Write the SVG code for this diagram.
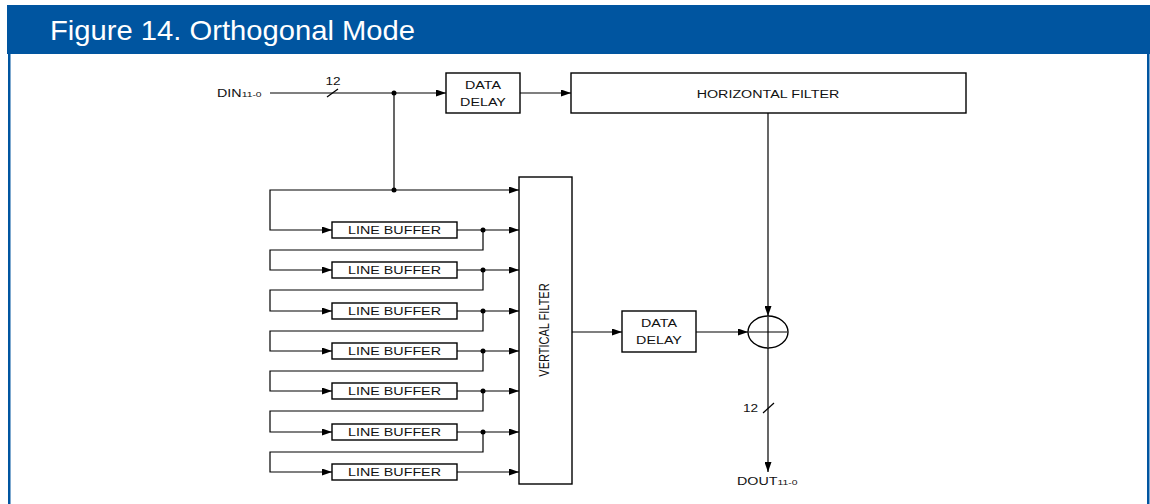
<svg xmlns="http://www.w3.org/2000/svg" width="1150" height="504" viewBox="0 0 1150 504">
<style>
  .frame{fill:#0055a0}
  .box{fill:#fff;stroke:#000;stroke-width:1.4}
  .ln{fill:none;stroke:#000;stroke-width:1.2}
  .arr{marker-end:url(#ah)}
  .t{font-family:"Liberation Sans",Arial,sans-serif;font-size:11px;fill:#111}
  .s{font-size:8px}
  .title{font-family:"Liberation Sans",Arial,sans-serif;font-size:28px;fill:#fff}
</style>
<defs>
  <marker id="ah" markerUnits="userSpaceOnUse" markerWidth="10" markerHeight="7" refX="10" refY="3.5" orient="auto">
    <path d="M0,0 L10,3.5 L0,7 z" fill="#000"/>
  </marker>
</defs>
<rect width="1150" height="504" fill="#fff"/>
<g id="frame">
  <rect class="frame" x="7" y="5" width="1143" height="49"/>
  <rect class="frame" x="8" y="54" width="2.5" height="450"/>
  <rect class="frame" x="1147" y="54" width="2.5" height="450"/>
  <text class="title" x="50" y="40" textLength="365" lengthAdjust="spacingAndGlyphs">Figure 14. Orthogonal Mode</text>
</g>

<g id="connectors">
  <path class="ln arr" d="M270,93 H446"/>
  <path class="ln" d="M327,97 L338,89"/>
  <path class="ln arr" d="M520,93 H571"/>
  <path class="ln" d="M394,93 V190"/>
  <path class="ln arr" d="M394,190 H519"/>
  <path class="ln arr" d="M394,190 H270 V230 H332"/>
  <path class="ln arr" d="M457,230 H519"/>
  <path class="ln arr" d="M483,230 V250 H270 V270 H332"/>
  <path class="ln arr" d="M457,270 H519"/>
  <path class="ln arr" d="M483,270 V290 H270 V311 H332"/>
  <path class="ln arr" d="M457,311 H519"/>
  <path class="ln arr" d="M483,311 V331 H270 V351 H332"/>
  <path class="ln arr" d="M457,351 H519"/>
  <path class="ln arr" d="M483,351 V371 H270 V391 H332"/>
  <path class="ln arr" d="M457,391 H519"/>
  <path class="ln arr" d="M483,391 V411 H270 V432 H332"/>
  <path class="ln arr" d="M457,432 H519"/>
  <path class="ln arr" d="M483,432 V452 H270 V472 H332"/>
  <path class="ln arr" d="M457,472 H519"/>
  <path class="ln arr" d="M572,332 H622"/>
  <path class="ln arr" d="M696,332 H748"/>
  <path class="ln arr" d="M768,113 V316"/>
  <path class="ln arr" d="M768,348 V472"/>
  <path class="ln" d="M763,413 L774,403"/>
  <g fill="#000">
    <circle cx="394" cy="93" r="2.5"/>
    <circle cx="394" cy="190" r="2.5"/>
    <circle cx="483" cy="230" r="2.5"/>
    <circle cx="483" cy="270" r="2.5"/>
    <circle cx="483" cy="311" r="2.5"/>
    <circle cx="483" cy="351" r="2.5"/>
    <circle cx="483" cy="391" r="2.5"/>
    <circle cx="483" cy="432" r="2.5"/>
  </g>
</g>

<g id="din">
  <text class="t" transform="translate(217,97) scale(1.3,1)">DIN<tspan class="s">11-0</tspan></text>
  <text class="t" style="font-size:10.5px" text-anchor="middle" transform="translate(333,85) scale(1.3,1)">12</text>
</g>

<g id="data-delay-1">
  <rect class="box" x="446" y="73" width="74" height="40"/>
  <text class="t" text-anchor="middle" transform="translate(483,89) scale(1.3,1)">DATA</text>
  <text class="t" text-anchor="middle" transform="translate(483,105.5) scale(1.3,1)">DELAY</text>
</g>

<g id="horizontal-filter">
  <rect class="box" x="571" y="73" width="395" height="40"/>
  <text class="t" text-anchor="middle" transform="translate(768,97.5) scale(1.3,1)">HORIZONTAL FILTER</text>
</g>

<g id="vertical-filter">
  <rect class="box" x="519" y="177" width="53" height="307"/>
  <text class="t" text-anchor="middle" transform="translate(549,330) scale(1.3,1) rotate(-90)">VERTICAL FILTER</text>
</g>

<g id="line-buffer-1"><rect class="box" x="332" y="222" width="125" height="16"/><text class="t" text-anchor="middle" transform="translate(394.5,234) scale(1.3,1)">LINE BUFFER</text></g>
<g id="line-buffer-2"><rect class="box" x="332" y="262" width="125" height="16"/><text class="t" text-anchor="middle" transform="translate(394.5,274) scale(1.3,1)">LINE BUFFER</text></g>
<g id="line-buffer-3"><rect class="box" x="332" y="303" width="125" height="16"/><text class="t" text-anchor="middle" transform="translate(394.5,315) scale(1.3,1)">LINE BUFFER</text></g>
<g id="line-buffer-4"><rect class="box" x="332" y="343" width="125" height="16"/><text class="t" text-anchor="middle" transform="translate(394.5,355) scale(1.3,1)">LINE BUFFER</text></g>
<g id="line-buffer-5"><rect class="box" x="332" y="383" width="125" height="16"/><text class="t" text-anchor="middle" transform="translate(394.5,395) scale(1.3,1)">LINE BUFFER</text></g>
<g id="line-buffer-6"><rect class="box" x="332" y="424" width="125" height="16"/><text class="t" text-anchor="middle" transform="translate(394.5,436) scale(1.3,1)">LINE BUFFER</text></g>
<g id="line-buffer-7"><rect class="box" x="332" y="464" width="125" height="16"/><text class="t" text-anchor="middle" transform="translate(394.5,476) scale(1.3,1)">LINE BUFFER</text></g>

<g id="data-delay-2">
  <rect class="box" x="622" y="311" width="74" height="41"/>
  <text class="t" text-anchor="middle" transform="translate(659,327) scale(1.3,1)">DATA</text>
  <text class="t" text-anchor="middle" transform="translate(659,344) scale(1.3,1)">DELAY</text>
</g>

<g id="adder">
  <ellipse class="box" cx="768" cy="332" rx="20" ry="16"/>
  <path class="ln" d="M749,332 H787 M768,317 V347"/>
</g>

<g id="dout">
  <text class="t" style="font-size:10.5px" transform="translate(743,412) scale(1.3,1)">12</text>
  <text class="t" transform="translate(737,485) scale(1.3,1)">DOUT<tspan class="s">11-0</tspan></text>
</g>
</svg>
